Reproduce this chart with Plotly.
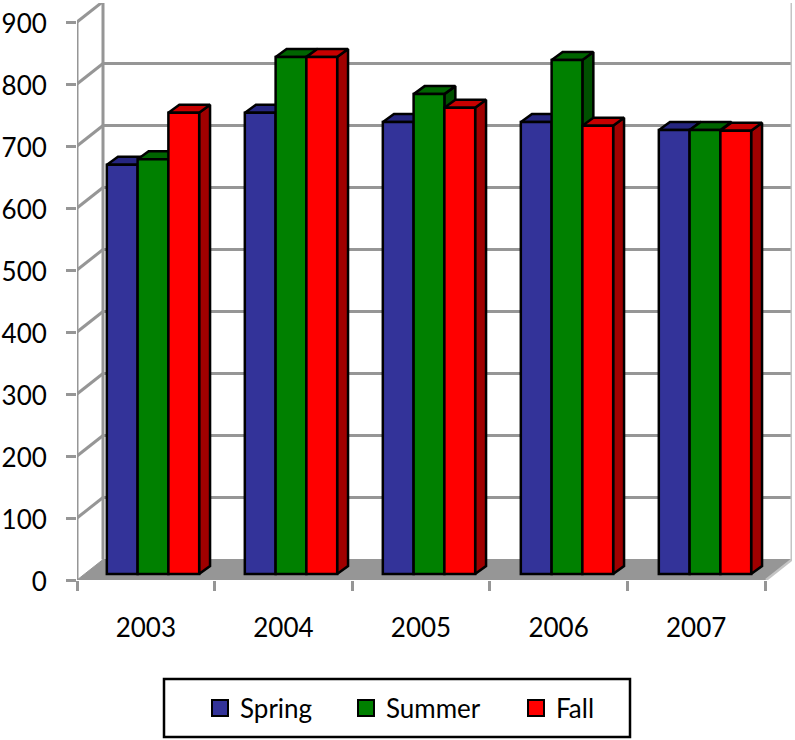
import plotly.graph_objects as go

years = ["2003", "2004", "2005", "2006", "2007"]
spring = [660, 744, 729, 729, 716]
summer = [669, 834, 774, 829, 716]
fall = [744, 834, 752, 723, 715]
y_ticks = [0, 100, 200, 300, 400, 500, 600, 700, 800, 900]

names = ["Spring", "Summer", "Fall"]
front = ["#333399", "#008000", "#FF0000"]
topc = ["#262680", "#006400", "#C80000"]
sidec = ["#1F1F66", "#005000", "#A00000"]
series = [spring, summer, fall]

# figure geometry (paper pixels)
W, H = 795, 740
L, R, T, B = 77, 3, 3, 160
cat_px = 137.6
val_px = 0.62
plot_w = W - L - R
plot_h = H - T - B
x_max = plot_w / cat_px
y_max = plot_h / val_px
px = lambda p: p / cat_px
py = lambda p: p / val_px

wall_dx, wall_dy = px(26), py(20.5)
bar_w = px(30.7)
bar_dx, bar_dy = px(11), py(8)
bar_shift = px(7.2)
bar_step = px(138)
bar_base = py(6)

GRID = "#969696"
LIGHT = "#C4C4C4"
fig = go.Figure()


def line(xs, ys, color=GRID, width=3):
    fig.add_trace(go.Scatter(x=xs, y=ys, mode="lines", showlegend=False, hoverinfo="skip",
                             cliponaxis=False, line=dict(color=color, width=width)))


def poly(xs, ys, fill, lc="black", lw=2.5):
    fig.add_trace(go.Scatter(x=xs, y=ys, mode="lines", fill="toself", fillcolor=fill, showlegend=False,
                             hoverinfo="skip", cliponaxis=False, line=dict(color=lc, width=lw)))


# floor
poly([0, wall_dx, x_max, x_max - wall_dx, 0], [0, wall_dy, wall_dy, 0, 0], GRID, GRID, 1)
# back wall grid and side-wall grid
for v in y_ticks:
    if v == 0:
        continue
    c = LIGHT if v == 900 else GRID
    line([0, wall_dx], [v, v + wall_dy], GRID, 3)
    line([wall_dx, x_max], [v + wall_dy, v + wall_dy], c, 2.5 if v == 900 else 3)
line([0, 0], [0, 900])
line([wall_dx, wall_dx], [wall_dy, 900 + wall_dy])
line([x_max, x_max], [wall_dy, 900 + wall_dy], LIGHT, 3)
line([x_max - wall_dx, x_max], [0, wall_dy], LIGHT, 2.5)
line([0, x_max - wall_dx], [py(-2), py(-2)], LIGHT, 2.5)

# bar group centres
centers = [0.5 + bar_shift + i * bar_step for i in range(len(years))]

# depth faces, left to right, behind the bar fronts
for i in range(len(years)):
    for k, vals in enumerate(series):
        xl = centers[i] + (k - 1.5) * bar_w
        xr = xl + bar_w
        top = vals[i] + bar_base
        poly([xr, xr + bar_dx, xr + bar_dx, xr, xr],
             [bar_base, bar_base + bar_dy, top + bar_dy, top, bar_base], sidec[k])
        poly([xl, xl + bar_dx, xr + bar_dx, xr, xl],
             [top, top + bar_dy, top + bar_dy, top, top], topc[k])

# bar fronts on an overlaying pair of axes
for k, vals in enumerate(series):
    fig.add_trace(go.Bar(x=centers, y=vals, base=bar_base, name=names[k], xaxis="x2", yaxis="y2",
                         marker=dict(color=front[k], line=dict(color="black", width=2.5)),
                         showlegend=False))

# legend entries, one positioned legend per series
legend_px = [200, 346, 516]
for k in range(3):
    fig.add_trace(go.Scatter(x=[None], y=[None], mode="markers", name=names[k],
                             legend="legend" if k == 0 else f"legend{k + 1}",
                             marker=dict(symbol="square", size=16, color=front[k],
                                         line=dict(color="black", width=2))))


def legend_at(p):
    return dict(x=(p - L) / plot_w, y=(H - B - 708) / plot_h, xanchor="left", yanchor="middle",
                bgcolor="rgba(0,0,0,0)", font=dict(family="Lato", size=26, color="black"),
                borderwidth=0, itemclick=False, itemdoubleclick=False)


fig.update_layout(
    width=W, height=H,
    margin=dict(l=L, r=R, t=T, b=B, autoexpand=False, pad=0),
    paper_bgcolor="white", plot_bgcolor="white",
    barmode="group", bargap=1 - 3 * bar_w,
    font=dict(family="Lato", size=26, color="black"),
    legend=legend_at(legend_px[0]),
    legend2=legend_at(legend_px[1]),
    legend3=legend_at(legend_px[2]),
    xaxis=dict(range=[0, x_max], tickmode="array", tickvals=[i + 0.5 for i in range(len(years))],
               ticktext=years, ticklen=0, ticks="outside", tickcolor="rgba(0,0,0,0)", showgrid=False,
               zeroline=False, showline=False, ticklabelstandoff=25,
               minor=dict(tickmode="array", tickvals=list(range(len(years) + 1)), ticks="outside",
                          ticklen=10, tickwidth=2.5, tickcolor=GRID, showgrid=False)),
    yaxis=dict(range=[0, y_max], tickmode="array", tickvals=y_ticks, ticks="outside", ticklen=10,
               tickwidth=3, tickcolor=GRID, showgrid=False, zeroline=False, showline=False,
               ticklabelstandoff=14, ticklabelshift=2),
    xaxis2=dict(range=[0, x_max], overlaying="x", visible=False),
    yaxis2=dict(range=[0, y_max], overlaying="y", visible=False),
    shapes=[dict(type="rect", xref="paper", yref="paper",
                 x0=(164 - L) / plot_w, x1=(630 - L) / plot_w,
                 y0=(H - B - 737) / plot_h, y1=(H - B - 679) / plot_h,
                 line=dict(color="black", width=2.5), fillcolor="rgba(0,0,0,0)")],
)

fig.write_html("out.html", config=dict(displayModeBar=False),
               post_script="document.body.style.margin='0';")
